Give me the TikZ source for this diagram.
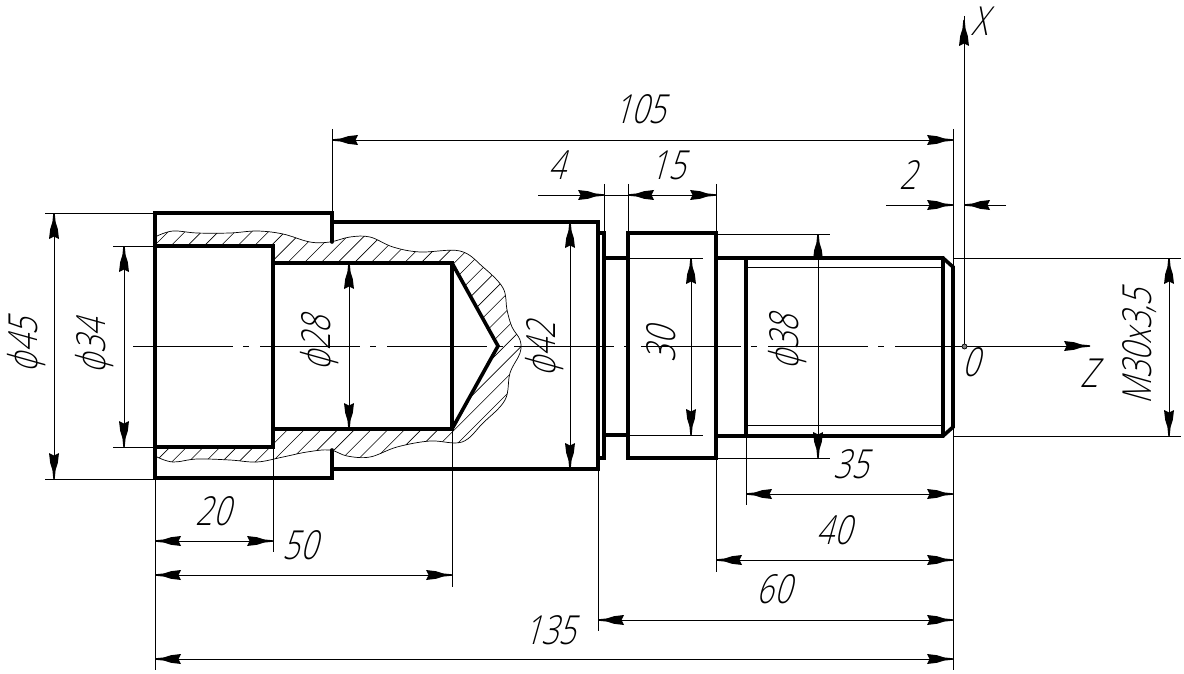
\documentclass[tikz,border=0pt]{standalone}
\usepackage{fontspec}
\setmainfont[FakeSlant=0.28,FakeStretch=0.75]{Open Sans Light}
\newfontfamily\phifont[FakeSlant=0.28,FakeStretch=0.8]{DejaVu Sans ExtraLight}
\usetikzlibrary{arrows.meta}
\pgfdeclarearrow{
  name=Dart,
  setup code={
    \pgfarrowssettipend{26pt}
    \pgfarrowssetlineend{12pt}
    \pgfarrowssetbackend{0pt}
    \pgfarrowssetvisualbackend{2.5pt}
  },
  drawing code={
    \pgfpathmoveto{\pgfqpoint{26pt}{0.7pt}}
    \pgfpathlineto{\pgfqpoint{17pt}{1.6pt}}
    \pgfpathlineto{\pgfqpoint{10pt}{3.8pt}}
    \pgfpathlineto{\pgfqpoint{0pt}{5pt}}
    \pgfpathlineto{\pgfqpoint{2.5pt}{0pt}}
    \pgfpathlineto{\pgfqpoint{0pt}{-5pt}}
    \pgfpathlineto{\pgfqpoint{10pt}{-3.8pt}}
    \pgfpathlineto{\pgfqpoint{17pt}{-1.6pt}}
    \pgfpathlineto{\pgfqpoint{26pt}{-0.7pt}}
    \pgfpathclose
    \pgfusepathqfill
  }
}
\tikzset{
  outline/.style={line width=3.6pt, line cap=round, line join=miter},
  thinline/.style={line width=0.9pt},
  breakline/.style={line width=0.7pt},
  hatchline/.style={line width=0.6pt},
  dimline/.style={thinline, >=Dart},
  dimlabel/.style={inner sep=0pt, font=\fontsize{40}{40}\selectfont}
}
\newcommand{\breakcurve}{
  plot[smooth,tension=0.6] coordinates {(157,236) (173,231) (197,233) (230,233) (257,231) (283,234) (310,242) (330,242) (350,237) (370,237) (393,247) (420,252) (460,251) (483,267) (503,288) (507,310) (512,327) (520,340) (520,353) (510,373) (505,400) (483,423) (462,442) (430,441) (397,447) (370,457) (347,456) (330,450) (307,452) (283,457) (257,462) (230,460) (197,459) (173,462) (157,457)}
}
\newcommand{\dia}{{\phifont ϕ}}
\begin{document}
\begin{tikzpicture}[x=1pt,y=-1pt]
  \useasboundingbox (0,0) rectangle (1184,674);
  % Hatching of the cut
  \begin{scope}
    \clip \breakcurve -- (155,447) -- (273,447) -- (273,429) -- (452,429) -- (498,346) -- (452,263) -- (273,263) -- (273,246) -- (155,246) -- cycle;
    \foreach \hx in {-100,-83.3,...,800}
      \draw[hatchline] (\hx,500) -- ({\hx+300},200);
  \end{scope}
  \draw[breakline] \breakcurve;
  % Extension lines
  \draw[thinline] (45,213) -- (155,213);
  \draw[thinline] (45,479) -- (155,479);
  \draw[thinline] (113,246) -- (155,246);
  \draw[thinline] (113,447) -- (155,447);
  \draw[thinline] (155,478) -- (155,670);
  \draw[thinline] (273,429) -- (273,552);
  \draw[thinline] (452,429) -- (452,587);
  \draw[thinline] (332,129) -- (332,213);
  \draw[thinline] (598,469) -- (598,631);
  \draw[thinline] (604,184) -- (604,233);
  \draw[thinline] (628,184) -- (628,233);
  \draw[thinline] (716,184) -- (716,233);
  \draw[thinline] (716,458) -- (716,572);
  \draw[thinline] (746,435) -- (746,505);
  \draw[thinline] (953,129) -- (953,670);
  \draw[thinline] (628,258) -- (703,258);
  \draw[thinline] (628,435) -- (703,435);
  \draw[thinline] (716,234) -- (830,234);
  \draw[thinline] (716,458) -- (830,458);
  \draw[thinline] (953,258) -- (1181,258);
  \draw[thinline] (953,436) -- (1181,436);
  \draw[thinline] (746,267) -- (943,267);
  \draw[thinline] (746,425) -- (943,425);
  % Center line
  \draw[thinline, dash pattern=on 100pt off 10pt on 6pt off 11pt] (133,346) -- (965,346);
  % Part outline
  \draw[outline] (332,242) -- (332,213) -- (155,213) -- (155,478) -- (332,478) -- (332,450);
  \draw[outline] (332,222) -- (598,222) -- (598,469) -- (332,469);
  \draw[outline] (155,246) -- (273,246) -- (273,447) -- (155,447);
  \draw[outline] (273,263) -- (452,263) -- (452,429) -- (273,429);
  \draw[outline] (452,263) -- (498,346) -- (452,429);
  \draw[outline] (598,233) -- (604,233) -- (604,458) -- (598,458);
  \draw[outline] (604,258) -- (628,258);
  \draw[outline] (604,435) -- (628,435);
  \draw[outline] (628,233) rectangle (716,458);
  \draw[outline] (716,258) -- (943,258) -- (953,267) -- (953,427) -- (943,436) -- (716,436);
  \draw[outline] (746,258) -- (746,436);
  \draw[outline] (943,258) -- (943,436);
  % Axes
  \draw[thinline] (964,16) -- (964,346);
  \draw[dimline,->] (964,346) -- (964,20);
  \draw[dimline,->] (964,346) -- (1090,346);
  \draw[line width=0.7pt, fill=gray] (964.5,346.5) circle (2.5pt);
  % Dimension lines
  \draw[dimline,<->] (54,213) -- (54,479);
  \draw[dimline,<->] (124,246) -- (124,447);
  \draw[dimline,<->] (349,263) -- (349,429);
  \draw[dimline,<->] (570,222) -- (570,469);
  \draw[dimline,<->] (691,258) -- (691,435);
  \draw[dimline,<->] (818,234) -- (818,458);
  \draw[dimline,<->] (1169,258) -- (1169,436);
  \draw[dimline,<->] (332,140) -- (953,140);
  \draw[dimline,->] (538,195) -- (604,195);
  \draw[thinline] (604,195) -- (628,195);
  \draw[dimline,<->] (628,195) -- (716,195);
  \draw[dimline,->] (886,205) -- (953,205);
  \draw[dimline,->] (1006,205) -- (964,205);
  \draw[dimline,<->] (155,541) -- (273,541);
  \draw[dimline,<->] (155,575) -- (452,575);
  \draw[dimline,<->] (746,494) -- (953,494);
  \draw[dimline,<->] (716,560) -- (953,560);
  \draw[dimline,<->] (598,620) -- (953,620);
  \draw[dimline,<->] (155,659) -- (953,659);
  % Labels
  \node[dimlabel] (l105) at (640,109) {105};
  \node[dimlabel] (l4) at (557,165) {4};
  \node[dimlabel] (l15) at (668,165) {15};
  \node[dimlabel] (l2) at (908,175) {2};
  \node[dimlabel] (l20) at (213,511) {20};
  \node[dimlabel] (l50) at (300,545) {50};
  \node[dimlabel] (l35) at (851,464) {35};
  \node[dimlabel] (l40) at (834,530) {40};
  \node[dimlabel] (l60) at (774,589) {60};
  \node[dimlabel] (l135) at (550,630) {135};
  \node[dimlabel] (lx) at (980,21) {X};
  \node[dimlabel] (lz) at (1089,373) {Z};
  \node[dimlabel] (lo) at (971,362) {0};
  \node[dimlabel,rotate=90] (d45) at (27,346) {\dia45};
  \node[dimlabel,rotate=90] (d34) at (95,347) {\dia34};
  \node[dimlabel,rotate=90] (d28) at (320,344) {\dia28};
  \node[dimlabel,rotate=90] (d42) at (545,350) {\dia42};
  \node[dimlabel,rotate=90] (d30) at (661,345) {30};
  \node[dimlabel,rotate=90] (d38) at (788,343) {\dia38};
  \node[dimlabel,rotate=90] (m30) at (1140,347) {M30x3,5};
\end{tikzpicture}
\end{document}
